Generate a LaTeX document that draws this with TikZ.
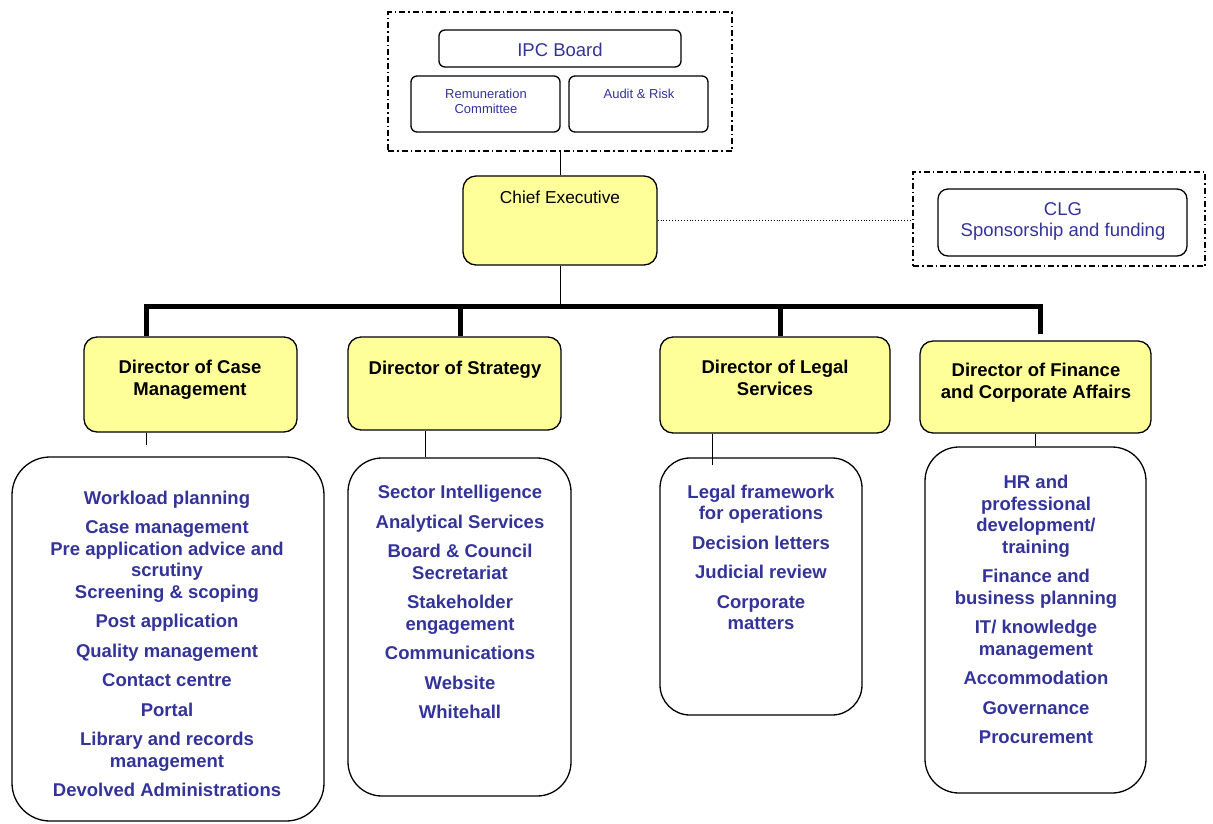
\documentclass[tikz,border=0pt]{standalone}
\usepackage{fontspec}
\setmainfont{Liberation Sans}
\usepackage{xcolor}
\usepackage{tikz}
\definecolor{ipcblue}{HTML}{333399}
\definecolor{paleyellow}{HTML}{FFFF99}
\tikzset{
  dashframe/.style={draw, line width=1.2pt, dash pattern=on 6pt off 3pt on 1.5pt off 3pt, inner sep=0pt},
  boardbox/.style={draw, line width=1.3pt, rounded corners=6pt, inner sep=0pt},
  dirbox/.style={draw, line width=1.3pt, fill=paleyellow, rounded corners=13pt, inner sep=0pt},
  listbox/.style={draw, line width=1.3pt, rounded corners=38pt, inner sep=0pt},
  bartree/.style={line width=5pt, line join=miter},
  dirtext/.style={anchor=base, align=center, inner sep=0pt, font=\fontsize{18.5}{22}\selectfont\bfseries},
  itemtext/.style={anchor=base, align=center, inner sep=0pt, text=ipcblue, font=\fontsize{18.5}{21.5}\selectfont\bfseries},
  boardtext/.style={anchor=base, align=center, inner sep=0pt, text=ipcblue, font=\fontsize{18.5}{21.5}\selectfont},
  smalltext/.style={anchor=base, align=center, inner sep=0pt, text=ipcblue, font=\fontsize{13}{15}\selectfont}
}
\begin{document}
\begin{tikzpicture}[x=1pt,y=1pt,yscale=-1,xscale=1]
    \useasboundingbox (0,0) rectangle (1213,823);
    %Board frame
    \node[dashframe, minimum width=344, minimum height=139] (ipcframe) at (560,81.5) {};
    \node[boardbox, minimum width=242, minimum height=37] (ipcboard) at (560,48.5) {};
    \node[boardbox, minimum width=149, minimum height=56] (remun) at (485.5,104) {};
    \node[boardbox, minimum width=139, minimum height=56] (audit) at (638.5,104) {};
    % Text Node (base = last line)
    \node[boardtext] (tipc) at (560,56) {IPC Board};
    \node[smalltext] (tremun) at (486,113) {Remuneration\\Committee};
    \node[smalltext] (taudit) at (639,98) {Audit \& Risk};
    %Chief executive
    \node[dirbox, minimum width=194, minimum height=89] (ceo) at (560,220.5) {};
    \node[anchor=base, inner sep=0pt, font=\fontsize{17.3}{20}\selectfont] (tceo) at (560,203) {Chief Executive};
    %Sponsor frame
    \node[dashframe, minimum width=292, minimum height=94] (clgframe) at (1059,219) {};
    \node[boardbox, rounded corners=10pt, minimum width=249, minimum height=67] (clg) at (1062.5,222.5) {};
    \node[boardtext] (tclg) at (1063,236.5) {CLG\\Sponsorship and funding};
    %Straight Lines
    \draw[line width=1pt] (ipcframe.south) -- (ceo.north);
    \draw[line width=0.9pt, dotted] (ceo.east) -- (clgframe.west |- ceo.east);
    %Directors
    \node[dirbox, minimum width=213, minimum height=95] (dcase) at (190.5,384.5) {};
    \node[dirbox, minimum width=213, minimum height=93] (dstrat) at (454.5,383.5) {};
    \node[dirbox, minimum width=230, minimum height=96] (dlegal) at (775,385) {};
    \node[dirbox, minimum width=231, minimum height=92] (dfin) at (1035.5,387) {};
    % Text Node
    \node[dirtext] (tcase) at (190,395.5) {Director of Case\\Management};
    \node[dirtext] (tstrat) at (455,374) {Director of Strategy};
    \node[dirtext] (tlegal) at (775,395.5) {Director of Legal\\Services};
    \node[dirtext] (tfin) at (1036,398.5) {Director of Finance\\and Corporate Affairs};
    %Bar
    \coordinate (bcase) at (146,306);
    \coordinate (bceo) at (560,306);
    \coordinate (bstrat) at (460,306);
    \coordinate (blegal) at (780,306);
    \coordinate (bfin) at (1040,306);
    \coordinate (bfinend) at (1040,334);
    \draw[line width=1pt] (ceo.south) -- (bceo);
    \draw[bartree] (bcase |- dcase.north) -- (bcase) -- (bfin) -- (bfinend);
    \draw[bartree] (bstrat) -- (bstrat |- dstrat.north);
    \draw[bartree] (blegal) -- (blegal |- dlegal.north);
    %Lists
    \node[listbox, minimum width=312, minimum height=364] (lcase) at (168,639) {};
    \node[listbox, rounded corners=34pt, minimum width=223, minimum height=338] (lstrat) at (459.5,627) {};
    \node[listbox, rounded corners=30pt, minimum width=202, minimum height=257] (llegal) at (761,586.5) {};
    \node[listbox, rounded corners=34pt, minimum width=221, minimum height=346] (lfin) at (1035.5,620) {};
    \coordinate (scase) at (146,445);
    \coordinate (slegal) at (712,465);
    \draw[line width=1pt] (bcase |- dcase.south) -- (scase);
    \draw[line width=1pt] ([xshift=-29.5]dstrat.south) -- ([xshift=-34.5]lstrat.north);
    \draw[line width=1pt] (slegal |- dlegal.south) -- (slegal);
    \draw[line width=1pt] (dfin.south) -- (lfin.north);
    % Text Node
    \node[itemtext] (icase) at (167,796.5) {Workload planning\\[8pt]Case management\\Pre application advice and\\scrutiny\\Screening \& scoping\\[8pt]Post application\\[8pt]Quality management\\[8pt]Contact centre\\[8pt]Portal\\[8pt]Library and records\\management\\[8pt]Devolved Administrations};
    \node[itemtext] (istrat) at (460,718.5) {Sector Intelligence\\[8pt]Analytical Services\\[8pt]Board \& Council\\Secretariat\\[8pt]Stakeholder\\engagement\\[8pt]Communications\\[8pt]Website\\[8pt]Whitehall};
    \node[itemtext] (ilegal) at (761,629.5) {Legal framework\\for operations\\[8pt]Decision letters\\[8pt]Judicial review\\[8pt]Corporate\\matters};
    \node[itemtext] (ifin) at (1036,743.5) {HR and\\professional\\development/\\training\\[8pt]Finance and\\business planning\\[8pt]IT/ knowledge\\management\\[8pt]Accommodation\\[8pt]Governance\\[8pt]Procurement};
\end{tikzpicture}
\end{document}
